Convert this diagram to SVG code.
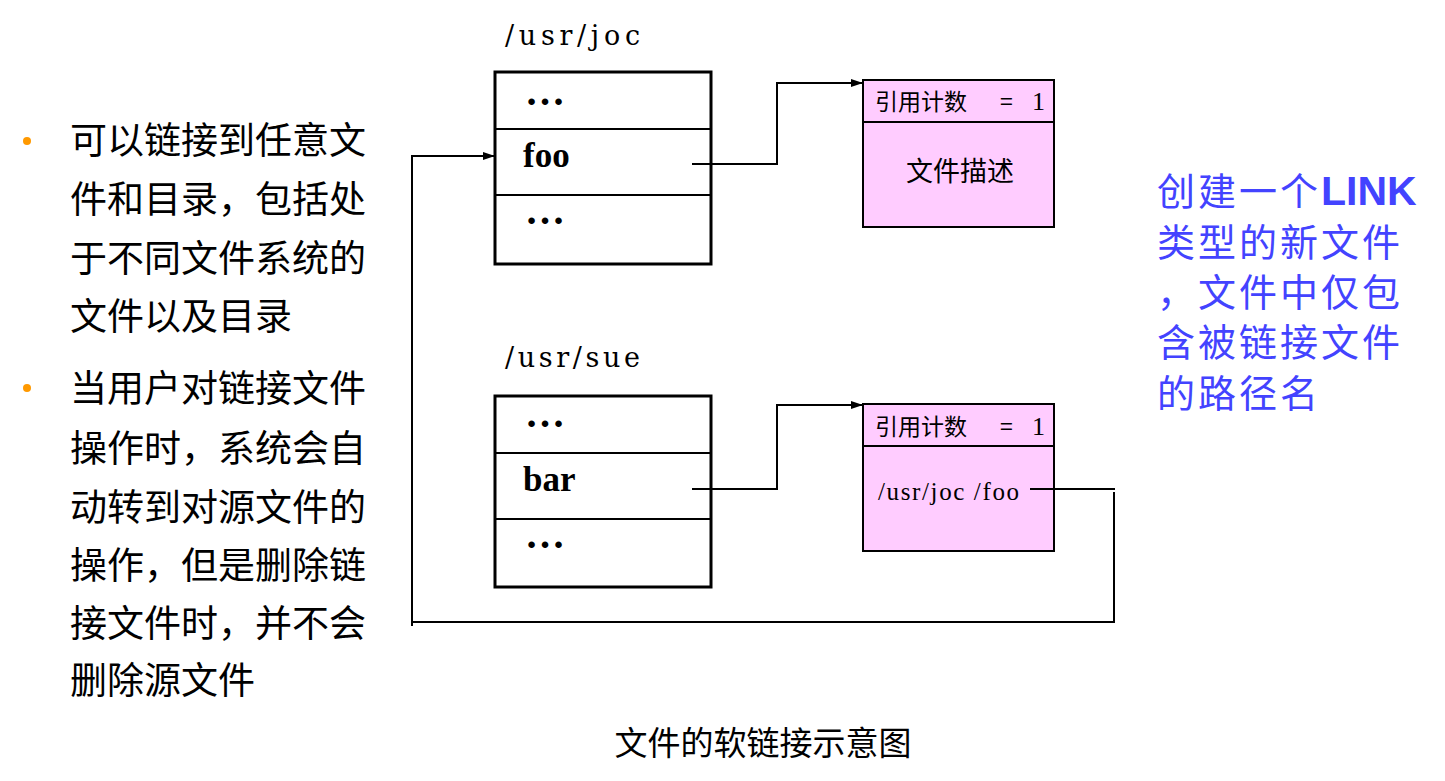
<svg xmlns="http://www.w3.org/2000/svg" width="1445" height="781" viewBox="0 0 1445 781">
<defs>
<marker id="arr" markerWidth="12" markerHeight="8" refX="11" refY="4" orient="auto" markerUnits="userSpaceOnUse">
<path d="M0,0 L12,4 L0,8 Z" fill="#000"/>
</marker>
<style>
.cjk{font-family:"Noto Sans CJK SC",sans-serif;fill:#000}
.side{font-size:37px}
.blue{font-family:"Noto Sans CJK SC",sans-serif;font-size:38px;fill:#4343FF;letter-spacing:3px}
.path{font-family:"DejaVu Serif",serif;font-size:27px;fill:#000}
.dir{fill:#fff;stroke:#000;stroke-width:3}
.div{stroke:#000;stroke-width:2}
.pink{fill:#FFCCFF;stroke:#000;stroke-width:2}
.ell{font-family:"Liberation Serif",serif;font-weight:bold;font-size:40px;fill:#000}
.name{font-family:"Liberation Serif",serif;font-weight:bold;font-size:35px;fill:#000}
.small{font-family:"Noto Sans CJK SC",sans-serif;font-size:23px;fill:#000}
.conn{fill:none;stroke:#000;stroke-width:2}
</style>
</defs>
<rect width="1445" height="781" fill="#fff"/>

<g id="left-text">
<circle cx="27" cy="141" r="4" fill="#FF9900"/>
<text class="cjk side" x="70" y="154">可以链接到任意文</text>
<text class="cjk side" x="70" y="213">件和目录，包括处</text>
<text class="cjk side" x="70" y="272">于不同文件系统的</text>
<text class="cjk side" x="70" y="330">文件以及目录</text>
<circle cx="27" cy="388" r="4" fill="#FF9900"/>
<text class="cjk side" x="70" y="402">当用户对链接文件</text>
<text class="cjk side" x="70" y="462">操作时，系统会自</text>
<text class="cjk side" x="70" y="521">动转到对源文件的</text>
<text class="cjk side" x="70" y="579">操作，但是删除链</text>
<text class="cjk side" x="70" y="637">接文件时，并不会</text>
<text class="cjk side" x="70" y="694">删除源文件</text>
</g>

<g id="dir-joc">
<text class="path" x="505" y="45" textLength="135" lengthAdjust="spacing">/usr/joc</text>
<rect class="dir" x="495" y="72" width="216" height="192"/>
<line class="div" x1="495" y1="129" x2="711" y2="129"/>
<line class="div" x1="495" y1="195" x2="711" y2="195"/>
<text class="ell" x="525" y="105">…</text>
<text class="name" x="523" y="167">foo</text>
<text class="ell" x="525" y="224">…</text>
</g>

<g id="dir-sue">
<text class="path" x="505" y="367" textLength="135" lengthAdjust="spacing">/usr/sue</text>
<rect class="dir" x="495" y="396" width="216" height="191"/>
<line class="div" x1="495" y1="453" x2="711" y2="453"/>
<line class="div" x1="495" y1="519" x2="711" y2="519"/>
<text class="ell" x="525" y="427">…</text>
<text class="name" x="523" y="491">bar</text>
<text class="ell" x="525" y="548">…</text>
</g>

<g id="inode-foo">
<rect class="pink" x="863" y="80" width="191" height="147"/>
<line class="div" x1="863" y1="122" x2="1054" y2="122"/>
<text class="small" y="110"><tspan x="875">引用计数</tspan><tspan x="1000">=</tspan><tspan x="1032" font-family="Liberation Serif, serif" font-size="26">1</tspan></text>
<text class="cjk" x="960" y="181" font-size="27" text-anchor="middle">文件描述</text>
</g>

<g id="inode-bar">
<rect class="pink" x="863" y="404" width="191" height="147"/>
<line class="div" x1="863" y1="446" x2="1054" y2="446"/>
<text class="small" y="435"><tspan x="875">引用计数</tspan><tspan x="1000">=</tspan><tspan x="1032" font-family="Liberation Serif, serif" font-size="26">1</tspan></text>
<text x="878" y="500" font-family="Liberation Serif, serif" font-size="25" textLength="141" lengthAdjust="spacing">/usr/joc /foo</text>
</g>

<g id="connectors">
<polyline class="conn" points="692,164 777,164 777,83 862,83" marker-end="url(#arr)"/>
<polyline class="conn" points="692,489 777,489 777,405 862,405" marker-end="url(#arr)"/>
<polyline class="conn" points="1030,489 1115,489"/>
<polyline class="conn" points="1114,492 1114,622 412,622"/>
<polyline class="conn" points="412,626 412,156 494,156" marker-end="url(#arr)"/>
</g>

<g id="right-text">
<text class="blue" x="1157" y="205">创建一个<tspan font-family="Liberation Sans, Arial, sans-serif" font-weight="bold" font-size="41" letter-spacing="0">LINK</tspan></text>
<text class="blue" x="1157" y="256">类型的新文件</text>
<text class="blue" x="1157" y="306">，文件中仅包</text>
<text class="blue" x="1157" y="356">含被链接文件</text>
<text class="blue" x="1157" y="407">的路径名</text>
</g>

<g id="caption">
<text class="cjk" x="763" y="755" font-size="33" text-anchor="middle">文件的软链接示意图</text>
</g>
</svg>
